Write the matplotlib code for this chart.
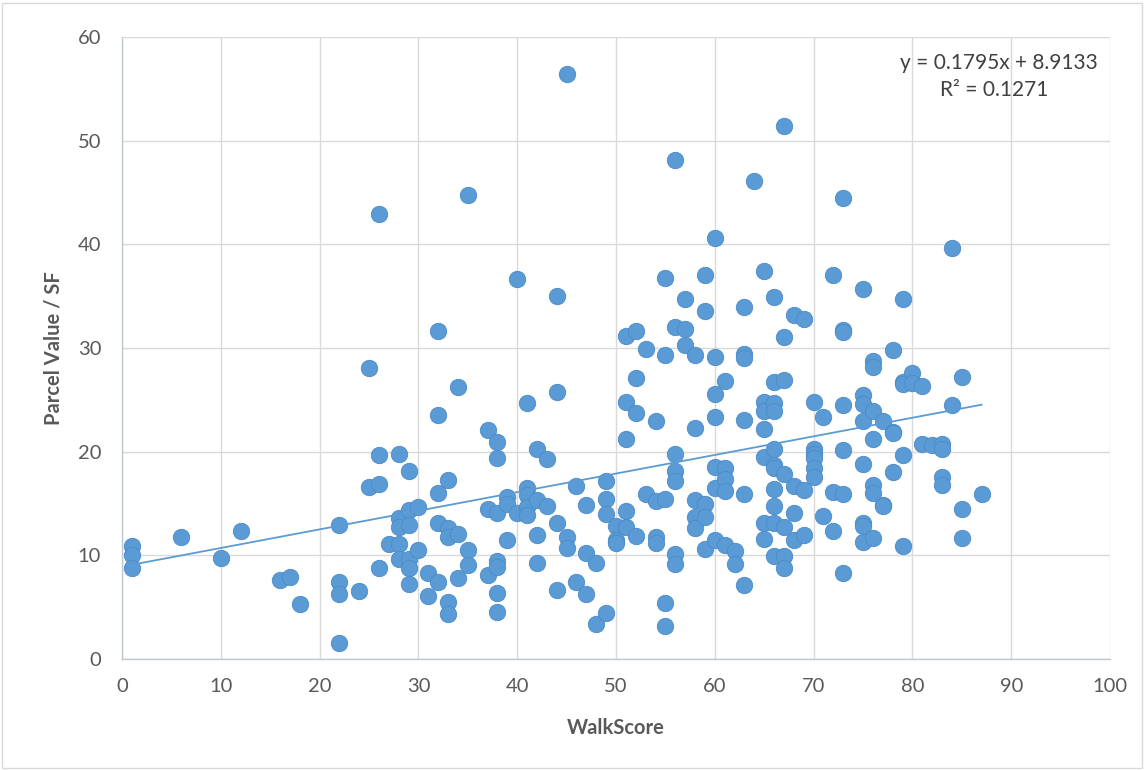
import matplotlib
matplotlib.use("Agg")
import matplotlib.pyplot as plt
from matplotlib.patches import Rectangle

# ---- data ----
walk_groups = [1, 6, 10, 12, 16, 17, 18, 22, 24, 25, 26, 27, 28, 29, 30, 31, 32, 33, 34, 35,
               37, 38, 39, 40, 41, 42, 43, 44, 45, 46, 47, 48, 49, 50, 51, 52, 53, 54, 55, 56,
               57, 58, 59, 60, 61, 62, 63, 64, 65, 66, 67, 68, 69, 70, 71, 72, 73, 75, 76, 77,
               78, 79, 80, 81, 82, 83, 84, 85, 87]
value_groups = [
    [10.9, 10.0, 8.8], [11.8], [9.7], [12.3], [7.6], [7.9], [5.3],
    [12.9, 7.4, 6.3, 1.5], [6.6], [28.1, 16.6], [42.9, 19.7, 16.9, 8.8], [11.1],
    [19.8, 13.6, 12.7, 11.1, 9.6], [18.1, 14.4, 12.9, 9.6, 8.8, 7.2], [14.7, 10.5],
    [8.3, 6.1], [31.6, 23.5, 16.0, 13.1, 7.4], [17.3, 12.6, 11.8, 5.5, 4.3],
    [26.2, 12.1, 7.8], [44.8, 10.5, 9.1], [22.1, 14.5, 8.1],
    [20.9, 19.4, 14.1, 9.5, 8.9, 6.4, 4.5], [15.6, 15.0, 11.5], [36.7, 14.1],
    [24.7, 16.5, 15.8, 14.7, 13.9], [20.3, 15.3, 12.0, 9.3], [19.3, 14.8],
    [35.0, 25.8, 13.1, 6.7], [56.4, 11.8, 10.7], [16.7, 7.4], [14.9, 10.2, 6.3],
    [9.3, 3.4], [17.2, 15.4, 14.0, 4.4], [12.8, 11.5, 11.2],
    [31.2, 24.8, 21.2, 14.3, 12.7], [31.6, 27.1, 23.7, 11.9], [29.9, 15.9],
    [23.0, 15.2, 11.8, 11.2], [36.8, 29.3, 15.4, 5.4, 3.2],
    [48.1, 32.0, 19.8, 18.1, 17.2, 10.1, 9.2], [34.7, 31.8, 30.3],
    [29.3, 22.3, 15.3, 13.7, 12.6], [37.0, 33.6, 15.0, 13.7, 10.6],
    [40.6, 29.1, 25.6, 23.3, 18.5, 16.5, 11.5], [26.8, 18.4, 17.4, 16.2, 11.0],
    [10.4, 9.2], [34.0, 29.4, 29.0, 23.1, 15.9, 7.1], [46.1],
    [37.4, 24.8, 23.9, 22.2, 19.5, 13.1, 11.6],
    [34.9, 26.7, 24.7, 23.9, 20.3, 18.7, 18.4, 16.4, 14.8, 13.1, 9.9],
    [51.4, 31.1, 26.9, 17.8, 12.7, 9.9, 8.8], [33.2, 16.7, 14.1, 11.5],
    [32.8, 16.3, 12.0], [24.8, 20.3, 19.8, 19.4, 18.4, 17.6], [23.3, 13.8],
    [37.0, 16.1, 12.3], [44.5, 31.7, 31.5, 24.5, 20.2, 15.9, 8.3],
    [35.7, 25.5, 24.6, 23.0, 18.8, 13.1, 12.8, 11.3],
    [28.7, 28.2, 23.9, 21.2, 16.8, 16.0, 11.7], [23.0, 14.9, 14.75],
    [29.8, 21.9, 21.8, 18.0], [34.7, 26.7, 26.5, 19.7, 10.9], [27.6, 26.6],
    [26.3, 20.7], [20.6], [20.7, 20.3, 17.6, 16.8], [39.6, 24.5],
    [27.2, 14.5, 11.7], [15.9],
]
slope = 0.1795
intercept = 8.9133
r_squared = 0.1271
x_ticks = [0, 10, 20, 30, 40, 50, 60, 70, 80, 90, 100]
y_ticks = [0, 10, 20, 30, 40, 50, 60]

walk = []
value = []
for xg, vals in zip(walk_groups, value_groups):
    for v in vals:
        walk.append(xg)
        value.append(v)

plt.rcParams['font.family'] = ['Lato', 'DejaVu Sans']

fig = plt.figure(figsize=(11.45, 7.7), dpi=100)
ax = fig.add_axes([122/1145, 1-659/770, (1110-122)/1145, (659-37)/770])

blue = '#5B9BD5'
ax.scatter(walk, value, s=140, color=blue, edgecolors='#4A8AC8', linewidths=0.6, zorder=3)

x0, x1 = min(walk), max(walk)
ax.plot([x0, x1], [slope*x0 + intercept, slope*x1 + intercept], color=blue, lw=1.3, zorder=4)

ax.set_xlim(0, 100)
ax.set_ylim(0, 60)
ax.set_xticks(x_ticks)
ax.set_yticks(y_ticks)
ax.grid(True, color='#D9D9D9', lw=1.0, zorder=0)
ax.set_axisbelow(True)
for s in ['top', 'right']:
    ax.spines[s].set_visible(False)
for s in ['left', 'bottom']:
    ax.spines[s].set_color('#BFC7D1')
    ax.spines[s].set_linewidth(1.0)
ax.tick_params(length=0, labelsize=14.5, colors='#595959')
ax.tick_params(axis='x', pad=14)
ax.tick_params(axis='y', pad=15)

ax.set_xlabel('WalkScore', fontsize=14.5, fontweight='bold', color='#595959', labelpad=16)
ax.set_ylabel('Parcel Value / SF', fontsize=14.5, fontweight='bold', color='#595959', labelpad=10)

ax.text(0.988, 0.958, f'y = {slope}x + {intercept}', transform=ax.transAxes,
        ha='right', va='center', fontsize=15, color='#404040')
ax.text(0.938, 0.915, f'R² = {r_squared}', transform=ax.transAxes,
        ha='right', va='center', fontsize=15, color='#404040')

fig.patches.append(Rectangle((2/1145, 2/770), 1-5/1145, 1-5/770, transform=fig.transFigure,
                             fill=False, edgecolor='#D9D9D9', lw=1.0))

fig.savefig('out.png', dpi=100, facecolor='white')
